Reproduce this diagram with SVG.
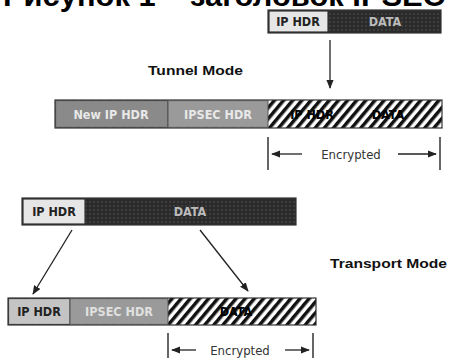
<svg xmlns="http://www.w3.org/2000/svg" width="450" height="358" viewBox="0 0 450 358">
<style>
.title{font-family:"Liberation Sans",Arial,sans-serif;font-weight:bold;font-size:30px;fill:#000}
.mode{font-family:"Liberation Sans",Arial,sans-serif;font-weight:bold;font-size:13px;fill:#111}
.lbl{font-family:"DejaVu Sans Condensed","Liberation Sans",sans-serif;font-weight:bold;font-size:12.5px;text-anchor:middle;dominant-baseline:central}
.dk{fill:#222}
.enc{font-family:"DejaVu Sans Condensed","Liberation Sans",sans-serif;font-size:13px;fill:#333;text-anchor:middle;dominant-baseline:central}
.box{stroke:#333;stroke-width:1.2}
.line{stroke:#222;stroke-width:1.3;fill:none}
.bar{stroke:#333;stroke-width:1.5}
</style>
<defs>
<pattern id="dots" width="4" height="4" patternUnits="userSpaceOnUse">
<rect width="4" height="4" fill="#2b2b2b"/>
<circle cx="2" cy="2" r="0.8" fill="#555"/>
</pattern>
<pattern id="hatch" width="7" height="7" patternUnits="userSpaceOnUse" patternTransform="rotate(40)">
<rect width="7" height="7" fill="#fff"/>
<rect width="3.5" height="7" fill="#111"/>
</pattern>
<marker id="ah" viewBox="0 0 10 10" refX="9" refY="5" markerWidth="7" markerHeight="7" orient="auto-start-reverse">
<path d="M0,1 L10,5 L0,9 z" fill="#222"/>
</marker>
</defs>

<text class="title" x="3" y="6" textLength="442" lengthAdjust="spacingAndGlyphs">Рисунок 1 – заголовок IPSEC</text>

<g id="orig-packet-top">
<rect class="box" x="268" y="10" width="173" height="23" fill="url(#dots)"/>
<rect class="box" x="269" y="11" width="59" height="21" fill="#e6e6e6"/>
<text class="lbl dk" x="298" y="21.5">IP HDR</text>
<text class="lbl" x="385" y="21.5" fill="#bbb">DATA</text>
</g>

<text id="tunnel-label" class="mode" x="148" y="75" textLength="95" lengthAdjust="spacingAndGlyphs">Tunnel Mode</text>

<g id="tunnel-packet">
<rect class="box" x="55" y="100" width="387" height="28" fill="url(#hatch)"/>
<rect x="55.6" y="100.6" width="112.4" height="26.8" fill="#8a8a8a" stroke="#444" stroke-width="1"/>
<rect x="168" y="100.6" width="100" height="26.8" fill="#9a9a9a" stroke="#555" stroke-width="1"/>
<text class="lbl" x="111" y="114" fill="#e8e8e8">New IP HDR</text>
<text class="lbl" x="218" y="114" fill="#e8e8e8">IPSEC HDR</text>
<text class="lbl" x="312" y="114" fill="#000">IP HDR</text>
<text class="lbl" x="388" y="114" fill="#000">DATA</text>
</g>

<g id="tunnel-encrypted">
<line class="bar" x1="268" y1="137" x2="268" y2="170"/>
<line class="bar" x1="440" y1="137" x2="440" y2="170"/>
<line class="line" x1="302" y1="154" x2="272" y2="154" marker-end="url(#ah)"/>
<line class="line" x1="398" y1="154" x2="436" y2="154" marker-end="url(#ah)"/>
<text class="enc" x="351" y="154">Encrypted</text>
</g>

<text id="transport-label" class="mode" x="330" y="268" textLength="117" lengthAdjust="spacingAndGlyphs">Transport Mode</text>

<g id="orig-packet-bottom">
<rect class="box" x="22" y="198" width="274" height="27" fill="url(#dots)"/>
<rect class="box" x="23" y="199" width="62" height="25" fill="#e6e6e6"/>
<text class="lbl dk" x="54" y="211.5">IP HDR</text>
<text class="lbl" x="190" y="211.5" fill="#bbb">DATA</text>
</g>

<g id="transport-packet">
<rect class="box" x="8" y="298" width="308" height="27" fill="url(#hatch)"/>
<rect x="8.6" y="298.6" width="61.4" height="25.8" fill="#c4c4c4" stroke="#333" stroke-width="1"/>
<rect x="70" y="298.6" width="98" height="25.8" fill="#9a9a9a" stroke="#555" stroke-width="1"/>
<text class="lbl" x="39" y="311.5" fill="#222">IP HDR</text>
<text class="lbl" x="119" y="311.5" fill="#e0e0e0">IPSEC HDR</text>
<text class="lbl" x="236" y="311.5" fill="#000">DATA</text>
</g>

<g id="transport-encrypted">
<line class="bar" x1="168" y1="333" x2="168" y2="358"/>
<line class="bar" x1="313" y1="333" x2="313" y2="358"/>
<line class="line" x1="196" y1="350" x2="172" y2="350" marker-end="url(#ah)"/>
<line class="line" x1="285" y1="350" x2="309" y2="350" marker-end="url(#ah)"/>
<text class="enc" x="240" y="350">Encrypted</text>
</g>

<g id="connectors">
<line class="line" x1="330" y1="40" x2="330" y2="88" marker-end="url(#ah)"/>
<line class="line" x1="72" y1="230" x2="33" y2="294" marker-end="url(#ah)"/>
<line class="line" x1="200" y1="230" x2="248" y2="291" marker-end="url(#ah)"/>
</g>
</svg>
